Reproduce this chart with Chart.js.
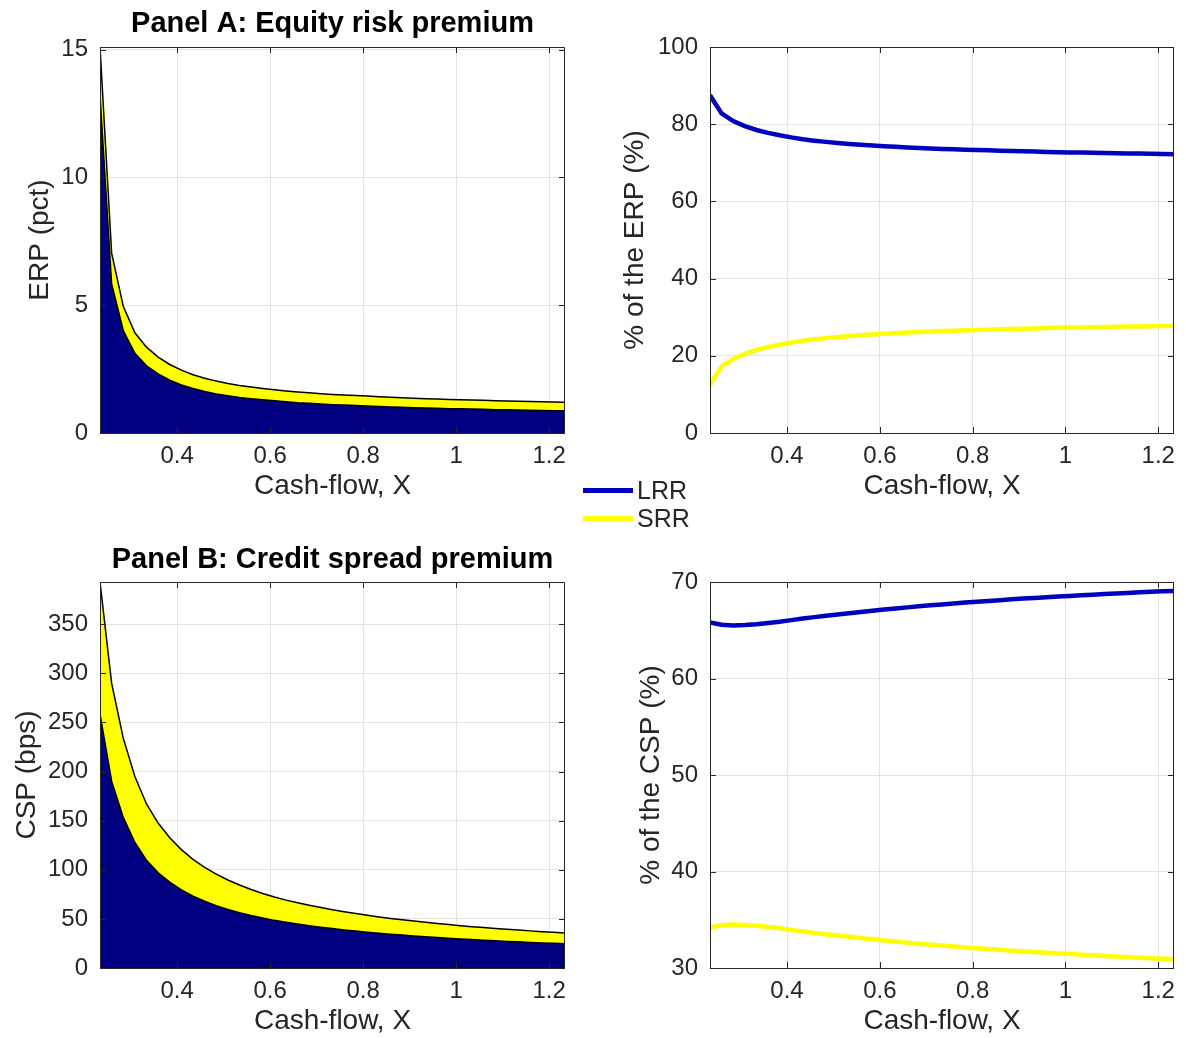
<!DOCTYPE html>
<html>
<head>
<meta charset="utf-8">
<script src="https://cdn.jsdelivr.net/npm/chart.js@4"></script>
<style>
  body { margin: 0; background: #fff; }
  #wrap { position: relative; width: 1186px; height: 1038px; font-family: "Liberation Sans", Arial, sans-serif; }
  canvas { position: absolute; }
  .leg-line { position: absolute; left: 583px; width: 50px; height: 5px; }
  .leg-text { position: absolute; left: 637px; font-size: 25px; color: #262626; line-height: 28px; }
</style>
</head>
<body>
<div id="wrap">
  <canvas id="erp" width="600" height="520" style="left:0;top:0"></canvas>
  <canvas id="erpShare" width="593" height="520" style="left:593px;top:0"></canvas>
  <canvas id="csp" width="600" height="503" style="left:0;top:535px"></canvas>
  <canvas id="cspShare" width="593" height="503" style="left:593px;top:535px"></canvas>
  <div class="leg-line" style="top:488px;background:#0000bf"></div>
  <div class="leg-text" style="top:476px">LRR</div>
  <div class="leg-line" style="top:516px;background:#ffff00"></div>
  <div class="leg-text" style="top:504px">SRR</div>
</div>
<script>
// cash-flow grid (x)
const cashFlow = [0.234, 0.259, 0.284, 0.309, 0.334, 0.359, 0.384, 0.409, 0.434, 0.459,
  0.484, 0.509, 0.534, 0.559, 0.584, 0.609, 0.634, 0.659, 0.684, 0.709,
  0.734, 0.759, 0.784, 0.809, 0.834, 0.859, 0.884, 0.909, 0.934, 0.959,
  0.984, 1.009, 1.034, 1.059, 1.084, 1.109, 1.134, 1.159, 1.184, 1.209, 1.234];

// Panel A: equity risk premium (pct) - total and LRR part
const erpTotal = [15.1, 7.04, 4.96, 3.92, 3.36, 2.97, 2.68, 2.46, 2.28, 2.14,
  2.03, 1.94, 1.86, 1.80, 1.74, 1.69, 1.64, 1.60, 1.57, 1.54,
  1.51, 1.49, 1.47, 1.45, 1.42, 1.40, 1.38, 1.36, 1.34, 1.33,
  1.31, 1.30, 1.29, 1.28, 1.26, 1.25, 1.24, 1.23, 1.22, 1.21, 1.20];
const erpLRR = [13.21, 5.83, 4.01, 3.12, 2.63, 2.31, 2.07, 1.88, 1.74, 1.62,
  1.53, 1.46, 1.39, 1.34, 1.30, 1.26, 1.22, 1.18, 1.16, 1.13,
  1.11, 1.10, 1.08, 1.06, 1.04, 1.02, 1.01, 0.99, 0.98, 0.97,
  0.95, 0.95, 0.94, 0.93, 0.91, 0.91, 0.90, 0.89, 0.88, 0.87, 0.87];
// % of the ERP
const erpShareLRR = [87.5, 82.8, 80.8, 79.5, 78.5, 77.75, 77.12, 76.58, 76.12, 75.74,
  75.42, 75.15, 74.9, 74.68, 74.48, 74.3, 74.13, 73.98, 73.84, 73.71,
  73.6, 73.5, 73.4, 73.31, 73.22, 73.13, 73.05, 72.97, 72.9, 72.83,
  72.76, 72.7, 72.64, 72.58, 72.53, 72.48, 72.43, 72.38, 72.33, 72.28, 72.23];
const erpShareSRR = [12.5, 17.2, 19.2, 20.5, 21.5, 22.25, 22.88, 23.42, 23.88, 24.26,
  24.58, 24.85, 25.1, 25.32, 25.52, 25.7, 25.87, 26.02, 26.16, 26.29,
  26.4, 26.5, 26.6, 26.69, 26.78, 26.87, 26.95, 27.03, 27.1, 27.17,
  27.24, 27.3, 27.36, 27.42, 27.47, 27.52, 27.57, 27.62, 27.67, 27.72, 27.77];

// Panel B: credit spread premium (bps)
const cspTotal = [393, 290, 234, 195, 167, 147.6, 132.6, 120.5, 110.6, 102.4,
  95.5, 89.6, 84.5, 80.0, 75.9, 72.2, 69.1, 66.4, 63.9, 61.5,
  59.3, 57.3, 55.4, 53.6, 52.0, 50.5, 49.1, 47.8, 46.5, 45.3,
  44.2, 43.1, 42.1, 41.2, 40.3, 39.4, 38.6, 37.8, 37.0, 36.3, 35.6];
const cspLRR = [258.6, 190.2, 153.3, 127.8, 109.6, 97.0, 87.4, 79.6, 73.2, 68.0,
  63.5, 59.7, 56.4, 53.5, 50.9, 48.5, 46.5, 44.7, 43.1, 41.6,
  40.1, 38.8, 37.6, 36.4, 35.4, 34.4, 33.5, 32.6, 31.8, 31.0,
  30.3, 29.5, 28.9, 28.3, 27.7, 27.1, 26.6, 26.0, 25.5, 25.1, 24.6];
// % of the CSP
const cspShareLRR = [65.80, 65.57, 65.50, 65.54, 65.63, 65.75, 65.89, 66.05, 66.21, 66.36,
  66.50, 66.64, 66.77, 66.90, 67.02, 67.14, 67.26, 67.37, 67.48, 67.58,
  67.68, 67.78, 67.87, 67.96, 68.04, 68.12, 68.20, 68.28, 68.35, 68.42,
  68.49, 68.56, 68.62, 68.69, 68.75, 68.81, 68.87, 68.93, 68.98, 69.03, 69.08];
const cspShareSRR = [34.20, 34.43, 34.50, 34.46, 34.37, 34.25, 34.11, 33.95, 33.79, 33.64,
  33.50, 33.36, 33.23, 33.10, 32.98, 32.86, 32.74, 32.63, 32.52, 32.42,
  32.32, 32.22, 32.13, 32.04, 31.96, 31.88, 31.80, 31.72, 31.65, 31.58,
  31.51, 31.44, 31.38, 31.31, 31.25, 31.19, 31.13, 31.07, 31.02, 30.97, 30.92];

// tick labels
const xTicks = [0.4, 0.6, 0.8, 1, 1.2];
const erpTicks = [0, 5, 10, 15];
const cspTicks = [0, 50, 100, 150, 200, 250, 300, 350];
const erpShareTicks = [0, 20, 40, 60, 80, 100];
const cspShareTicks = [30, 40, 50, 60, 70];

const FONT = '"Liberation Sans", Arial, sans-serif';
const INK = '#262626';
const NAVY = '#000080';
const BLUE = '#0000bf';
const YELLOW = '#ffff00';

const pts = (ys) => ys.map((y, i) => ({ x: cashFlow[i], y: y }));

// matlab style box with inward ticks on all four sides
const boxPlugin = {
  id: 'box',
  afterDatasetsDraw(chart) {
    const { ctx, chartArea: a, scales } = chart;
    ctx.save();
    ctx.strokeStyle = INK;
    ctx.lineWidth = 1;
    ctx.beginPath();
    scales.x.ticks.forEach(t => {
      const px = Math.round(scales.x.getPixelForValue(t.value)) + 0.5;
      ctx.moveTo(px, a.bottom); ctx.lineTo(px, a.bottom - 6);
      ctx.moveTo(px, a.top); ctx.lineTo(px, a.top + 6);
    });
    scales.y.ticks.forEach(t => {
      const py = Math.round(scales.y.getPixelForValue(t.value)) + 0.5;
      ctx.moveTo(a.left, py); ctx.lineTo(a.left + 6, py);
      ctx.moveTo(a.right, py); ctx.lineTo(a.right - 6, py);
    });
    ctx.rect(a.left + 0.5, a.top + 0.5, a.width - 1, a.height);
    ctx.stroke();
    ctx.restore();
  }
};

function makePanel(id, p) {
  const opts = {
    responsive: false,
    animation: false,
    layout: { padding: { top: p.padTop, right: p.padRight, left: 0, bottom: 0 } },
    plugins: {
      legend: { display: false },
      tooltip: { enabled: false },
      title: {
        display: !!p.title,
        text: p.title,
        fullSize: false,
        color: '#000',
        font: { family: FONT, size: 29, weight: 'bold', lineHeight: 1.2 },
        padding: { top: p.titleTop, bottom: 12.2 - p.titleTop }
      }
    },
    scales: {
      x: {
        type: 'linear',
        min: 0.234, max: 1.234,
        afterBuildTicks: s => { s.ticks = xTicks.map(v => ({ value: v })); },
        afterFit: s => { s.height = p.xHeight; },
        grid: { color: '#e3e3e3', drawTicks: false },
        border: { display: false },
        ticks: { color: INK, padding: 9, maxRotation: 0, font: { family: FONT, size: 24 }, callback: v => String(v) },
        title: { display: true, text: 'Cash-flow, X', color: INK, font: { family: FONT, size: 28 }, padding: { top: 0, bottom: p.xTitlePad } }
      },
      y: {
        min: p.yMin, max: p.yMax,
        afterBuildTicks: s => { s.ticks = p.yTicks.map(v => ({ value: v })); },
        afterFit: s => { s.width = p.yWidth; },
        grid: { color: '#e3e3e3', drawTicks: false },
        border: { display: false },
        ticks: { color: INK, padding: 12, font: { family: FONT, size: 24 }, callback: v => String(v) },
        title: { display: true, text: p.yTitle, color: INK, font: { family: FONT, size: 28 }, padding: { top: p.yTitlePad, bottom: 0 } }
      }
    }
  };
  return new Chart(document.getElementById(id), {
    type: 'line',
    data: { datasets: p.datasets },
    options: opts,
    plugins: [boxPlugin]
  });
}

// stacked-area style decomposition (LRR part + total)
function areaSets(lrr, total) {
  return [
    { data: pts(lrr), fill: 'origin', backgroundColor: NAVY, borderColor: '#000', borderWidth: 1.5, pointRadius: 0, tension: 0 },
    { data: pts(total), fill: '-1', backgroundColor: YELLOW, borderColor: '#000', borderWidth: 1.5, pointRadius: 0, tension: 0 }
  ];
}
function lineSets(lrr, srr) {
  return [
    { data: pts(lrr), borderColor: BLUE, borderWidth: 4.5, pointRadius: 0, tension: 0, fill: false },
    { data: pts(srr), borderColor: YELLOW, borderWidth: 4.5, pointRadius: 0, tension: 0, fill: false }
  ];
}

makePanel('erp', {
  title: 'Panel A: Equity risk premium', titleTop: 7, padTop: 0, padRight: 35,
  xHeight: 87, xTitlePad: 17.2, yWidth: 100, yTitlePad: 23.2,
  yMin: 0, yMax: 15.1, yTicks: erpTicks, yTitle: 'ERP (pct)',
  datasets: areaSets(erpLRR, erpTotal)
});
makePanel('erpShare', {
  title: '', titleTop: 0, padTop: 47, padRight: 12,
  xHeight: 87, xTitlePad: 17.2, yWidth: 117, yTitlePad: 25.2,
  yMin: 0, yMax: 100, yTicks: erpShareTicks, yTitle: '% of the ERP (%)',
  datasets: lineSets(erpShareLRR, erpShareSRR)
});
makePanel('csp', {
  title: 'Panel B: Credit spread premium', titleTop: 8, padTop: 0, padRight: 35,
  xHeight: 70, xTitlePad: 0.2, yWidth: 100, yTitlePad: 10.2,
  yMin: 0, yMax: 393, yTicks: cspTicks, yTitle: 'CSP (bps)',
  datasets: areaSets(cspLRR, cspTotal)
});
makePanel('cspShare', {
  title: '', titleTop: 0, padTop: 47, padRight: 12,
  xHeight: 70, xTitlePad: 0.2, yWidth: 117, yTitlePad: 41.2,
  yMin: 30, yMax: 70, yTicks: cspShareTicks, yTitle: '% of the CSP (%)',
  datasets: lineSets(cspShareLRR, cspShareSRR)
});
</script>
</body>
</html>
